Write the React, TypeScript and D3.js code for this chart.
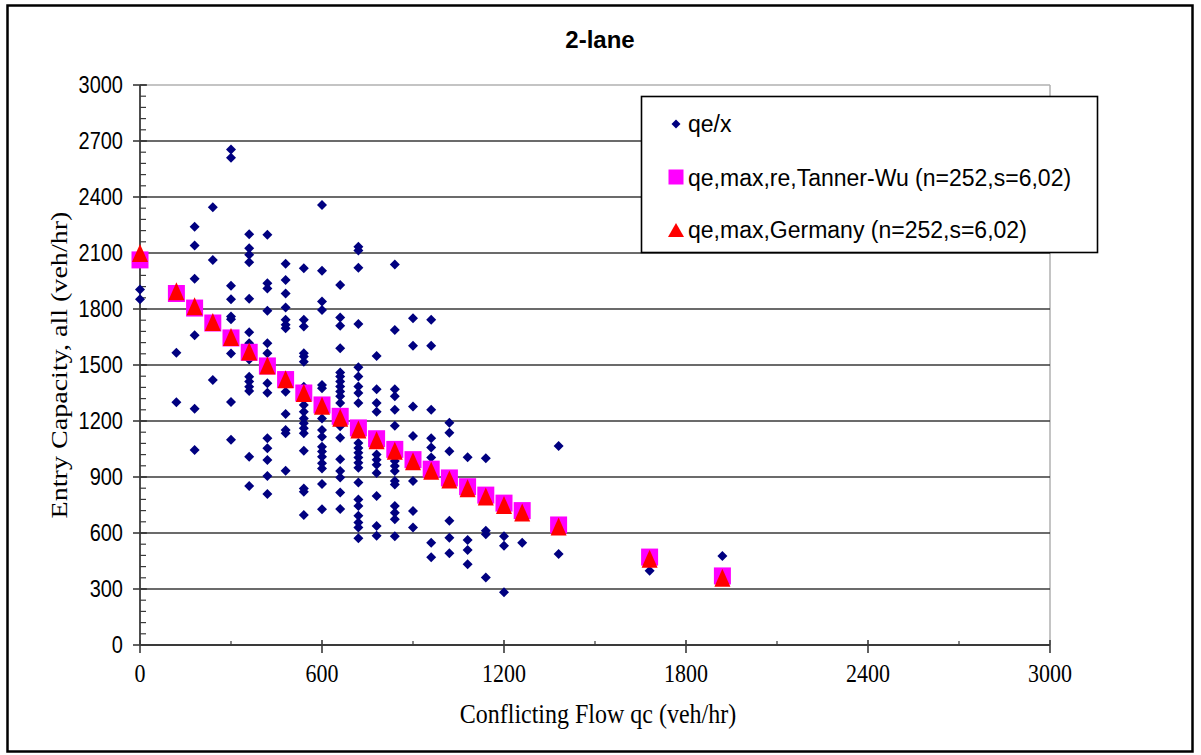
import React from "react";
import * as d3 from "d3";

// ---- data ----
const X_COLUMNS = [0, 120, 180, 240, 300, 360, 420, 480, 540, 600, 660, 720, 780, 840, 900, 960, 1020, 1080, 1140, 1200, 1260, 1380, 1680, 1920];

const QE_X_VALUES: number[][] = [
  [1905, 1852],
  [1565, 1300],
  [2240, 2140, 1962, 1660, 1265, 1045],
  [2345, 2062, 1420],
  [2655, 2610, 1925, 1852, 1760, 1745, 1562, 1302, 1100],
  [2200, 2125, 2090, 2050, 1855, 1675, 1617, 1530, 1437, 1411, 1384, 1361, 1009, 852],
  [2198, 1938, 1910, 1790, 1616, 1563, 1402, 1352, 1107, 1054, 991, 905, 809],
  [2042, 1955, 1883, 1808, 1742, 1715, 1697, 1357, 1237, 1152, 1134, 934],
  [2018, 1742, 1706, 1563, 1545, 1518, 1384, 1286, 1250, 1214, 1188, 1161, 1134, 1041, 839, 821, 696],
  [2357, 2005, 1840, 1795, 1393, 1375, 1280, 1214, 1152, 1116, 1062, 1036, 1009, 973, 946, 862, 727],
  [1928, 1755, 1710, 1590, 1460, 1438, 1412, 1385, 1358, 1332, 1296, 1172, 1110, 995, 932, 897, 817, 728],
  [2133, 2113, 2021, 1720, 1488, 1438, 1385, 1350, 1296, 1082, 1056, 1030, 1004, 977, 950, 870, 780, 745, 692, 656, 630, 572],
  [1548, 1370, 1296, 1250, 1020, 993, 966, 922, 798, 638, 585],
  [2039, 1688, 1370, 1332, 1260, 1175, 986, 959, 932, 878, 860, 745, 709, 673, 582],
  [1750, 1603, 1278, 1120, 878, 718, 630],
  [1742, 1603, 1260, 1108, 1058, 1005, 548, 470],
  [1190, 1137, 1038, 665, 575, 492],
  [1006, 562, 509, 432],
  [1000, 612, 593, 362],
  [582, 532, 282],
  [548],
  [1066, 487],
  [398],
  [477],
];

const TANNER_WU = [2063, 1883, 1805, 1725, 1645, 1568, 1495, 1422, 1350, 1286, 1225, 1163, 1105, 1048, 993, 942, 895, 848, 803, 760, 720, 643, 471, 370];
const GERMANY = [2100, 1895, 1815, 1730, 1650, 1572, 1497, 1424, 1350, 1282, 1217, 1155, 1097, 1040, 985, 934, 887, 840, 795, 750, 710, 635, 462, 360];

const Y_TICKS = [0, 300, 600, 900, 1200, 1500, 1800, 2100, 2400, 2700, 3000];
const X_TICKS = [0, 600, 1200, 1800, 2400, 3000];

const TITLE = "2-lane";
const X_TITLE = "Conflicting Flow qc (veh/hr)";
const Y_TITLE = "Entry Capacity, all (veh/hr)";
const LEGEND_LABELS = ["qe/x", "qe,max,re,Tanner-Wu (n=252,s=6,02)", "qe,max,Germany (n=252,s=6,02)"];

const W = 1201;
const H = 755;
const SANS = "'Liberation Sans', Arial, sans-serif";
const SERIF = "'Liberation Serif', 'Times New Roman', serif";

export default function App() {
  const x = d3.scaleLinear().domain([0, 3000]).range([140, 1050]);
  const y = d3.scaleLinear().domain([0, 3000]).range([645, 85]);

  const diamonds: { cx: number; cy: number }[] = [];
  X_COLUMNS.forEach((xv, i) => {
    QE_X_VALUES[i].forEach((yv) => diamonds.push({ cx: x(xv), cy: y(yv) }));
  });

  const minorY = d3.range(0, 3001, 60);
  const minorX = d3.range(300, 3000, 600);

  const diamondPath = (cx: number, cy: number, r: number) =>
    `M${cx},${cy - r}L${cx + r},${cy}L${cx},${cy + r}L${cx - r},${cy}Z`;
  const triPath = (cx: number, cy: number, w: number, h: number) =>
    `M${cx},${cy - h / 2}L${cx + w / 2},${cy + h / 2}L${cx - w / 2},${cy + h / 2}Z`;

  const x0 = x(0), x1 = x(3000), y0 = y(0), y1 = y(3000);

  return (
    <svg width={W} height={H} style={{ position: "absolute", left: 0, top: 0, background: "#fff" }}>
      <rect x={0} y={0} width={W} height={H} fill="#fff" />
      {/* outer border */}
      <rect x={7.5} y={5.5} width={1185} height={746} fill="none" stroke="#000" strokeWidth={2.5} />

      {/* title */}
      <text x={600} y={48} textAnchor="middle" fontFamily={SANS} fontWeight="bold" fontSize={24}>{TITLE}</text>

      {/* plot border (light) */}
      <line x1={x0} x2={x1} y1={y1} y2={y1} stroke="#b0b0b0" strokeWidth={1.5} />
      <line x1={x1} x2={x1} y1={y1} y2={y0} stroke="#b0b0b0" strokeWidth={1.5} />

      {/* gridlines */}
      {Y_TICKS.filter((t) => t > 0 && t < 3000).map((t) => (
        <line key={"g" + t} x1={x0} x2={x1} y1={y(t)} y2={y(t)} stroke="#3a3a3a" strokeWidth={1.6} />
      ))}

      {/* axes */}
      <line x1={x0} x2={x1} y1={y0} y2={y0} stroke="#3a3a3a" strokeWidth={1.8} />
      <line x1={x0} x2={x0} y1={y1} y2={y0} stroke="#3a3a3a" strokeWidth={1.8} />

      {/* y minor ticks */}
      {minorY.map((t) => (
        <line key={"ym" + t} x1={x0} x2={x0 + 6} y1={y(t)} y2={y(t)} stroke="#3a3a3a" strokeWidth={1.2} />
      ))}
      {/* y major ticks */}
      {Y_TICKS.map((t) => (
        <line key={"yM" + t} x1={x0 - 7} x2={x0 + 7} y1={y(t)} y2={y(t)} stroke="#3a3a3a" strokeWidth={1.6} />
      ))}
      {Y_TICKS.map((t) => (
        <text key={"yl" + t} transform={`translate(123,${y(t) + 8}) scale(1,1.18)`} textAnchor="end" fontFamily={SANS} fontSize={20} fill="#000">{t}</text>
      ))}

      {/* x ticks */}
      {minorX.map((t) => (
        <line key={"xm" + t} x1={x(t)} x2={x(t)} y1={y0 - 4} y2={y0 + 1} stroke="#3a3a3a" strokeWidth={1.2} />
      ))}
      {X_TICKS.map((t) => (
        <line key={"xM" + t} x1={x(t)} x2={x(t)} y1={y0 - 5} y2={y0 + 8} stroke="#3a3a3a" strokeWidth={1.6} />
      ))}
      {X_TICKS.map((t) => (
        <text key={"xl" + t} transform={`translate(${x(t)},682) scale(1,1.12)`} textAnchor="middle" fontFamily={SERIF} fontSize={22} fill="#000">{t}</text>
      ))}

      {/* axis titles */}
      <text transform={`translate(598,723) scale(1,1.12)`} textAnchor="middle" fontFamily={SERIF} fontSize={24}>{X_TITLE}</text>
      <text transform={`translate(67,${(y0 + y1) / 2}) rotate(-90) scale(1.17,1)`} textAnchor="middle" fontFamily={SERIF} fontSize={24}>{Y_TITLE}</text>

      {/* series: diamonds */}
      {diamonds.map((d, i) => (
        <path key={"d" + i} d={diamondPath(d.cx, d.cy, 5)} fill="#000080" />
      ))}
      {/* series: squares */}
      {X_COLUMNS.map((xv, i) => (
        <rect key={"s" + i} x={x(xv) - 8.5} y={y(TANNER_WU[i]) - 8.5} width={17} height={17} fill="#ff00ff" />
      ))}
      {/* series: triangles */}
      {X_COLUMNS.map((xv, i) => (
        <path key={"t" + i} d={triPath(x(xv), y(GERMANY[i]), 16, 18)} fill="#ff0000" />
      ))}

      {/* legend */}
      <rect x={641.5} y={96.5} width={456} height={156} fill="#fff" stroke="#000" strokeWidth={1.6} />
      <path d={diamondPath(676, 124, 4.5)} fill="#000080" />
      <text x={688} y={132} fontFamily={SANS} fontSize={23}>{LEGEND_LABELS[0]}</text>
      <rect x={668.5} y={169.5} width={15} height={15} fill="#ff00ff" />
      <text x={688} y={186} fontFamily={SANS} fontSize={23}>{LEGEND_LABELS[1]}</text>
      <path d={triPath(676, 230, 16, 14)} fill="#ff0000" />
      <text x={688} y={238} fontFamily={SANS} fontSize={23}>{LEGEND_LABELS[2]}</text>
    </svg>
  );
}
